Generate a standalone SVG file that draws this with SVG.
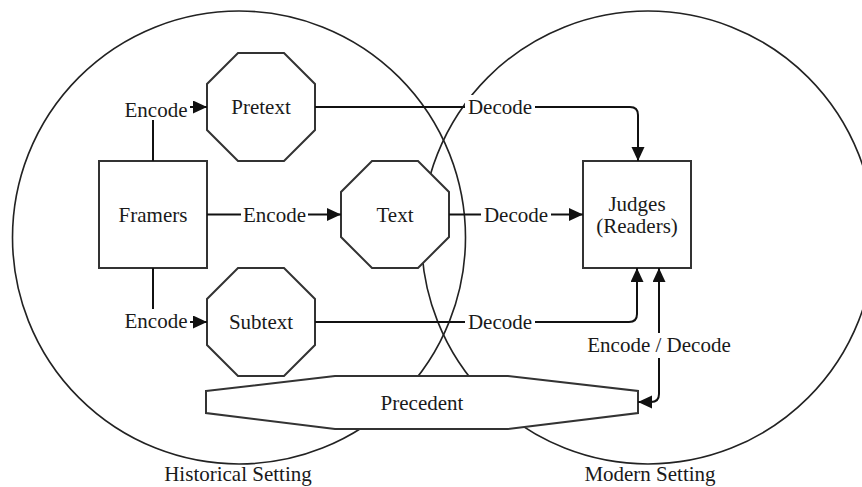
<svg xmlns="http://www.w3.org/2000/svg" width="862" height="487" viewBox="0 0 862 487">
  <style>
    .setting { fill: none; stroke: #222; stroke-width: 1.6; }
    .node { fill: #fff; stroke: #333; stroke-width: 2; }
    .edge { fill: none; stroke: #111; stroke-width: 2; }
    .lblbg { fill: #fff; stroke: none; }
    text { font-family: "Liberation Serif", "Times New Roman", serif; font-size: 21px; fill: #1a1a1a; text-anchor: middle; }
  </style>
  <defs>
    <marker id="arrow" markerUnits="userSpaceOnUse" markerWidth="15" markerHeight="14" refX="14" refY="6.5" orient="auto-start-reverse" viewBox="0 0 15 14">
      <path d="M0,0 L14,6.5 L0,13 Z" fill="#111"/>
    </marker>
  </defs>

  <rect width="862" height="487" fill="#fff"/>

  <!-- the two settings -->
  <g id="historical-setting">
    <circle class="setting" cx="239" cy="237.5" r="226.5"/>
    <text x="238" y="481">Historical Setting</text>
  </g>
  <g id="modern-setting">
    <circle class="setting" cx="648" cy="237.5" r="226.5"/>
    <text x="650" y="481">Modern Setting</text>
  </g>

  <!-- nodes -->
  <g id="framers">
    <rect class="node" x="99" y="161" width="108" height="107"/>
    <text x="153" y="221.5">Framers</text>
  </g>
  <g id="pretext">
    <polygon class="node" points="238,53 284,53 315,84 315,130 284,161 238,161 207,130 207,84"/>
    <text x="261" y="114">Pretext</text>
  </g>
  <g id="text">
    <polygon class="node" points="372,161 418,161 449,192 449,237 418,268 372,268 341,237 341,192"/>
    <text x="395" y="221.5">Text</text>
  </g>
  <g id="subtext">
    <polygon class="node" points="238,268 284,268 315,299 315,345 284,376 238,376 207,345 207,299"/>
    <text x="261" y="329">Subtext</text>
  </g>
  <g id="judges">
    <rect class="node" x="583" y="161" width="108" height="107"/>
    <text x="637" y="211">Judges</text>
    <text x="637" y="233">(Readers)</text>
  </g>
  <g id="precedent">
    <polygon class="node" points="206,391 335,376 508,376 638,391 638,413 508,429 335,429 206,413"/>
    <text x="422" y="410">Precedent</text>
  </g>

  <!-- connectors -->
  <g id="connectors">
    <path class="edge" d="M153,161 V107 H207" marker-end="url(#arrow)"/>
    <path class="edge" d="M207,214.5 H341" marker-end="url(#arrow)"/>
    <path class="edge" d="M153,268 V322 H207" marker-end="url(#arrow)"/>
    <path class="edge" d="M315,107 H630 Q638,107 638,115 V161" marker-end="url(#arrow)"/>
    <path class="edge" d="M449,214.5 H583" marker-end="url(#arrow)"/>
    <path class="edge" d="M315,322 H629 Q637,322 637,314 V268" marker-end="url(#arrow)"/>
    <path class="edge" d="M659,268 V394 Q659,402 651,402 H638" marker-start="url(#arrow)" marker-end="url(#arrow)"/>

    <!-- edge labels -->
    <rect class="lblbg" x="122" y="97" width="68" height="23"/>
    <text x="156" y="117">Encode</text>
    <rect class="lblbg" x="241" y="203" width="67" height="23"/>
    <text x="274.5" y="221.5">Encode</text>
    <rect class="lblbg" x="122" y="309" width="68" height="24"/>
    <text x="156" y="328">Encode</text>
    <rect class="lblbg" x="465" y="95" width="70" height="24"/>
    <text x="500" y="114">Decode</text>
    <rect class="lblbg" x="481" y="203" width="70" height="23"/>
    <text x="516" y="221.5">Decode</text>
    <rect class="lblbg" x="465" y="310" width="70" height="24"/>
    <text x="500" y="329">Decode</text>
    <rect class="lblbg" x="585" y="333" width="149" height="25"/>
    <text x="659" y="352">Encode / Decode</text>
  </g>
</svg>
